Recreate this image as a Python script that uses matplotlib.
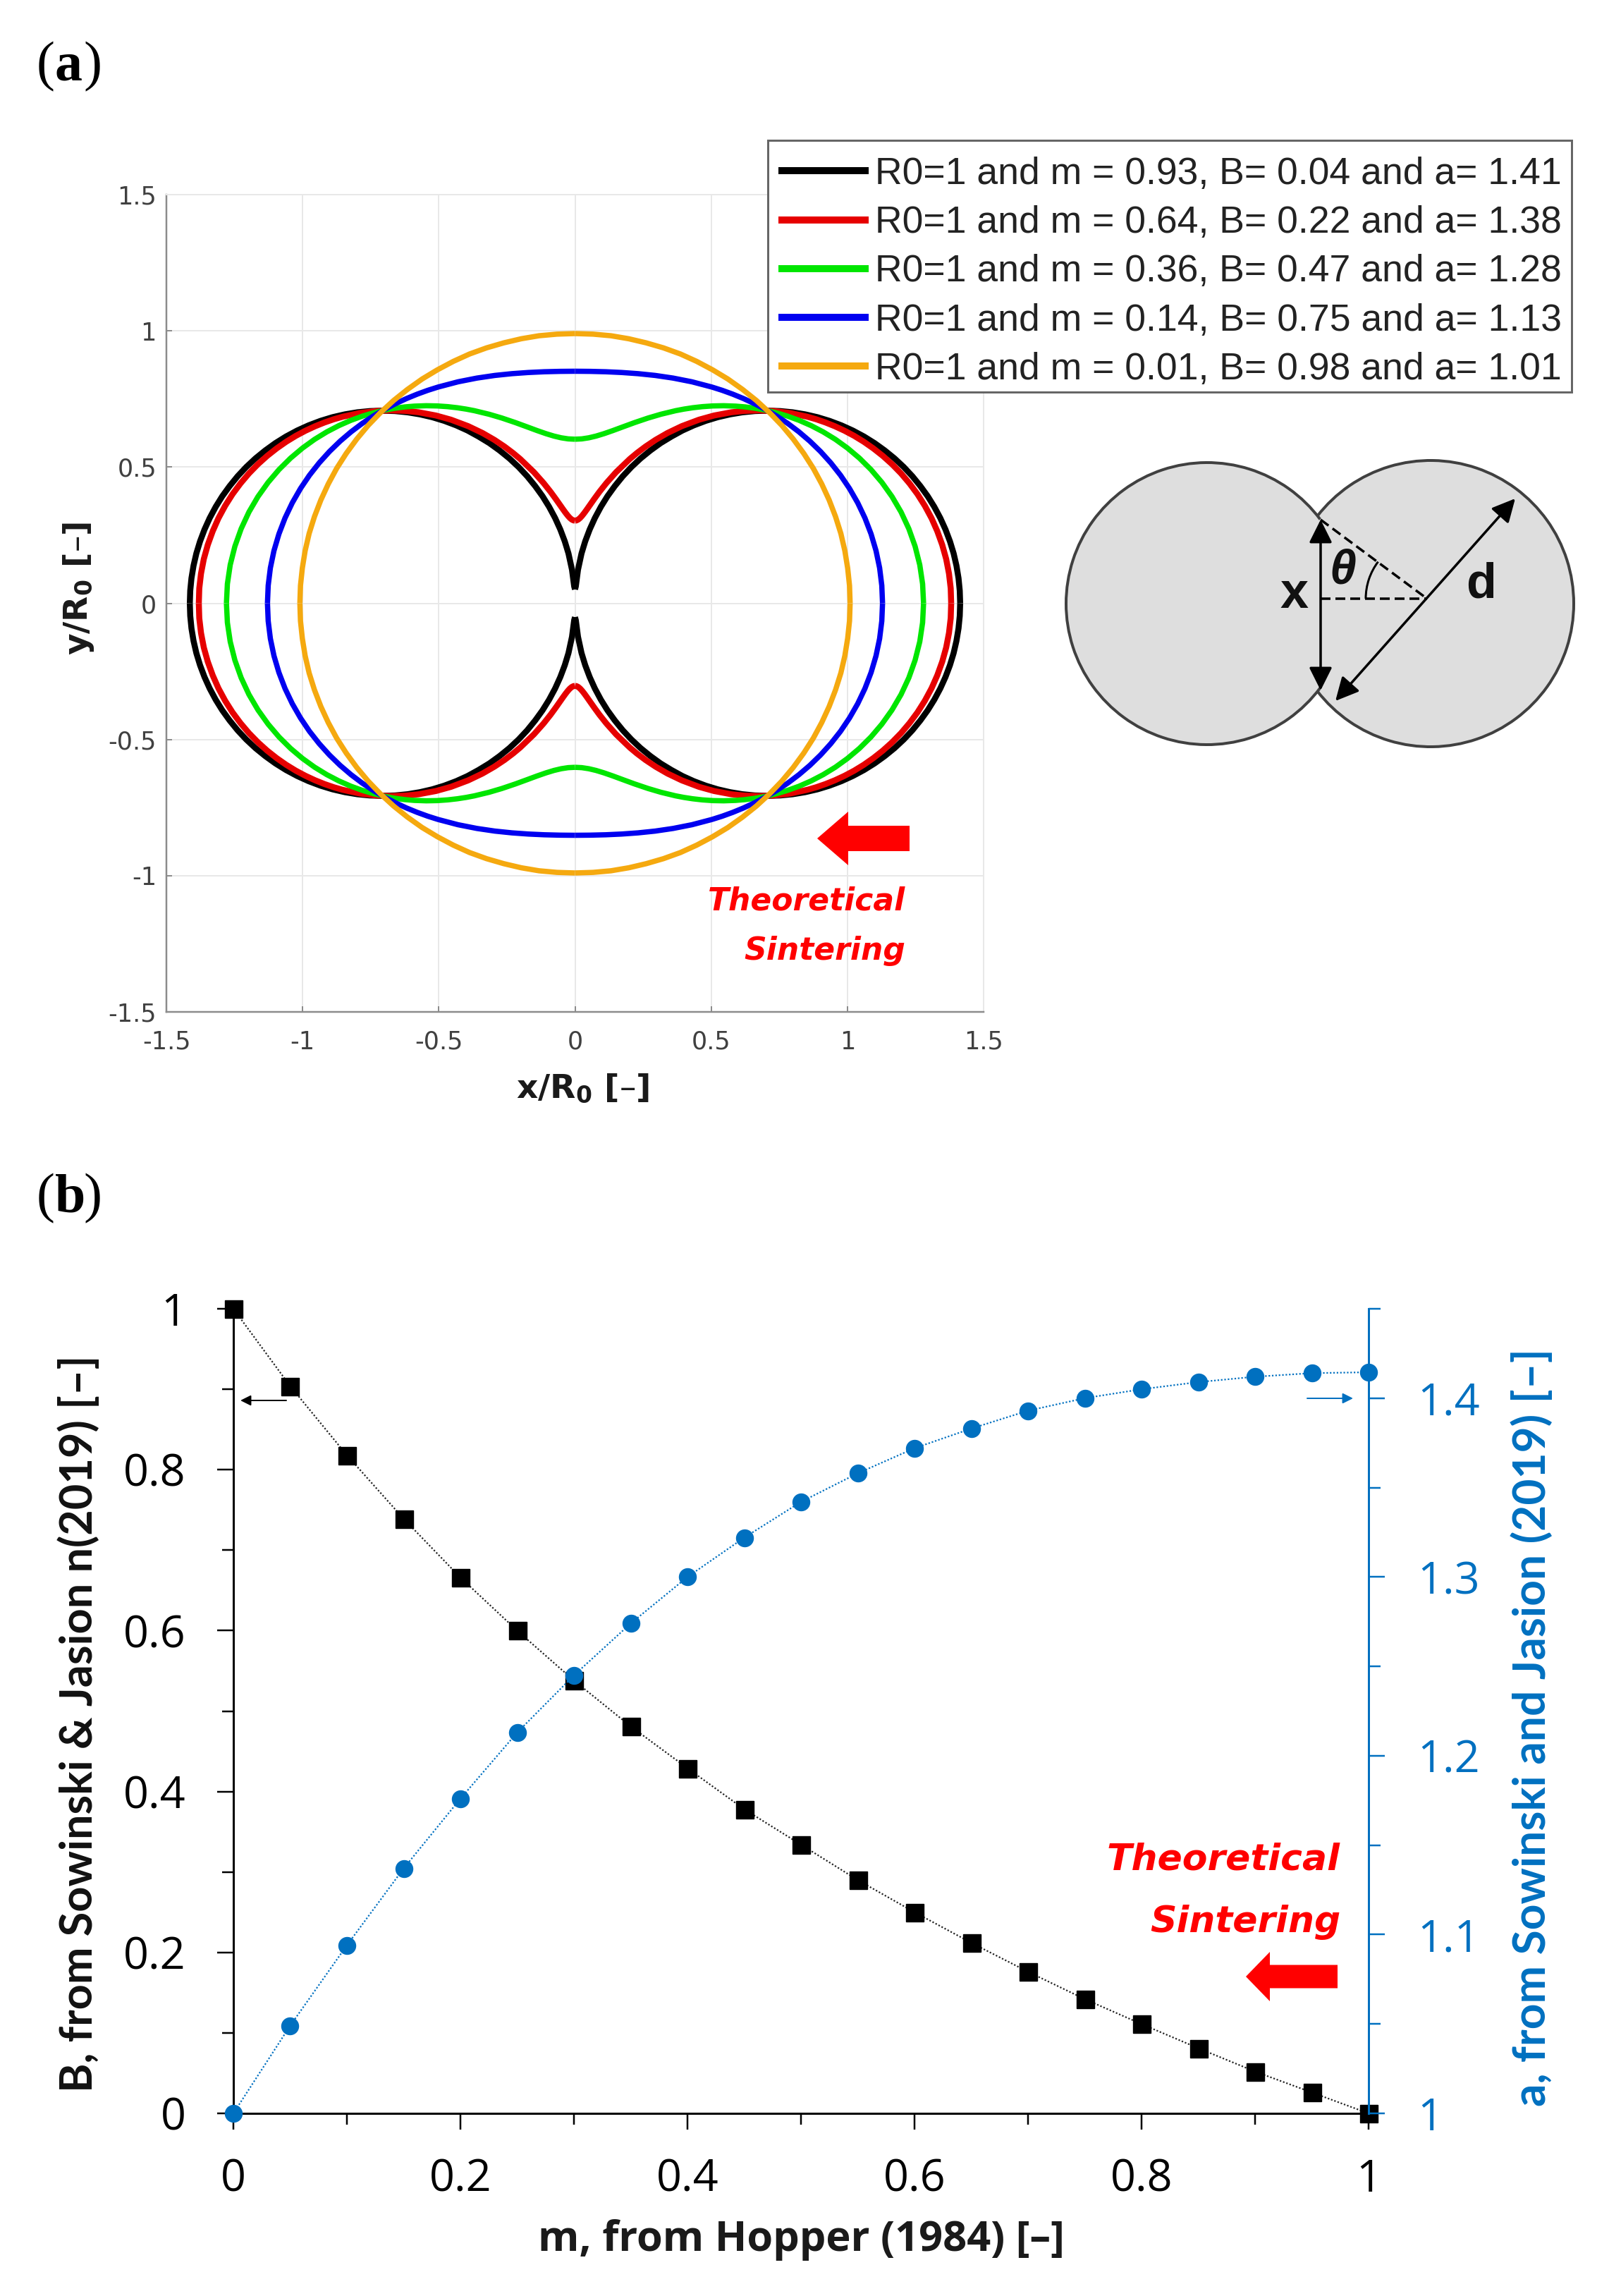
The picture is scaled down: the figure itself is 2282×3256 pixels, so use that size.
import numpy as np
import matplotlib
matplotlib.use("Agg")
import matplotlib.pyplot as plt
from matplotlib.patches import Circle, Arc, Polygon, Rectangle

W, H = 2282, 3256
DPI = 100
plt.rcParams['font.family'] = ['DejaVu Sans']
plt.rcParams['mathtext.fontset'] = 'dejavusans'

# ---------- panel (a): first-quadrant outline of each neck shape ----------
labels_a = ["R0=1 and m = 0.93, B= 0.04 and a= 1.41",
            "R0=1 and m = 0.64, B= 0.22 and a= 1.38",
            "R0=1 and m = 0.36, B= 0.47 and a= 1.28",
            "R0=1 and m = 0.14, B= 0.75 and a= 1.13",
            "R0=1 and m = 0.01, B= 0.98 and a= 1.01"]
colors_a = ["#000000", "#e60000", "#00e600", "#0000f0", "#f5a90f"]
widths_a = [8.5, 8.5, 7.5, 7.5, 7.5]

black_x = [1.414,1.4125,1.408,1.4004,1.390,1.3765,1.360,1.3411,1.319,1.2949,1.268,1.2386,1.207,1.1732,1.137,1.0998,1.061,1.0197,.978,.9343,.890,.8449,.799,.7532,.707,.6608,.615,.5691,.524,.4797,.436,.3943,.354,.3142,.277,.2408,.207,.1754,.146,.1191,.095,.0729,.054,.0375,.024,.011,.003,0]
black_y = [0,.0462,.092,.1379,.183,.2273,.271,.3127,.354,.3928,.430,.4662,.500,.5316,.561,.5878,.612,.6341,.653,.6695,.683,.6934,.701,.7055,.707,.7055,.701,.6934,.683,.6695,.653,.6341,.612,.5878,.561,.5316,.500,.4662,.430,.3928,.354,.3127,.271,.2273,.183,.123,.062,.051]
red_x = [1.381,1.3793,1.3729,1.3626,1.3481,1.3300,1.309,1.2843,1.2573,1.2278,1.1967,1.1639,1.1300,1.0953,1.0601,1.0248,.9894,.9543,.9198,.8858,.8526,.7888,.7289,.6731,.6217,.5744,.5107,.4552,.3921,.3396,.2957,.2589,.2278,.2015,.1509,.1155,.0898,.0705,.0556,.0437,.0339,.0256,.0184,.0119,.0058,0]
red_y = [0,.0548,.1092,.1626,.2145,.2645,.312,.3578,.4005,.4402,.4769,.5105,.5410,.5684,.5930,.6146,.6334,.6497,.6636,.6753,.6848,.6985,.7057,.7079,.7061,.7011,.6892,.6738,.6501,.6250,.5997,.5752,.5518,.5299,.4813,.4415,.4092,.3828,.3616,.3446,.3311,.3206,.3128,.3074,.3043,.3032]
green_x = [1.2796,1.2761,1.2657,1.2486,1.2255,1.1970,1.1637,1.1266,1.0865,1.0442,1.0004,.9559,.9111,.8667,.8230,.7804,.7391,.6993,.6611,.6246,.5898,.5461,.5053,.4675,.4323,.3997,.3694,.3153,.2685,.2185,.1759,.1391,.1066,.0774,.0504,.0248,0]
green_y = [0,.0710,.1410,.2088,.2737,.3349,.3917,.4437,.4908,.5327,.5696,.6017,.6291,.6522,.6714,.6869,.6993,.7088,.7158,.7207,.7236,.7251,.7243,.7217,.7177,.7127,.7069,.6938,.6800,.6631,.6475,.6339,.6226,.6137,.6073,.6034,.6022]
blue_x = [1.1290,1.1263,1.1183,1.1051,1.0870,1.0645,1.0379,1.0077,.9746,.9389,.9013,.8622,.8221,.7814,.7404,.6994,.6587,.6186,.5791,.5403,.5024,.4294,.3600,.2942,.2314,.1712,.1130,.0562,0]
blue_y = [0,.0652,.1297,.1929,.2541,.3128,.3686,.4212,.4702,.5155,.5571,.5950,.6292,.6599,.6872,.7114,.7327,.7514,.7676,.7817,.7937,.8129,.8266,.8363,.8428,.8471,.8498,.8512,.8517]
orange_x = [1.01,1.0078,1.001,.9906,.976,.9564,.933,.9058,.875,.8398,.801,.7594,.714,.6659,.615,.5611,.505,.4467,.387,.3247,.261,.1970,.132,.0661,0]
orange_y = [0,.0647,.129,.1931,.256,.3182,.379,.4379,.495,.5500,.603,.6528,.700,.7443,.785,.8232,.857,.8879,.915,.9375,.956,.9710,.982,.9879,.99]
curves_a = [(black_x, black_y), (red_x, red_y), (green_x, green_y), (blue_x, blue_y), (orange_x, orange_y)]
ticks_a = [-1.5, -1, -.5, 0, .5, 1, 1.5]
ticklabels_a = ["-1.5", "-1", "-0.5", "0", "0.5", "1", "1.5"]

# ---------- panel (b) ----------
m_vals = [0,.05,.1,.15,.2,.25,.3,.35,.4,.45,.5,.55,.6,.65,.7,.75,.8,.85,.9,.95,1]
B_vals = [1,.904,.818,.739,.666,.600,.538,.481,.429,.378,.334,.290,.250,.212,.176,.142,.111,.081,.052,.026,0]
a_vals = [1,1.049,1.094,1.137,1.176,1.213,1.245,1.274,1.300,1.322,1.342,1.358,1.372,1.383,1.393,1.400,1.405,1.409,1.412,1.414,1.4145]
BLUE = "#0070c0"


def ax_px(x0, y0, x1, y1):
    return [x0 / W, 1 - y1 / H, (x1 - x0) / W, (y1 - y0) / H]


fig = plt.figure(figsize=(W / DPI, H / DPI), dpi=DPI, facecolor="white")
px = 0.72  # points per pixel

# ===== panel (a) =====
ax = fig.add_axes(ax_px(236, 276, 1395, 1435))
GREY = "#404040"
for (cx, cy), col, lab, lw in zip(curves_a, colors_a, labels_a, widths_a):
    cx = np.array(cx); cy = np.array(cy)
    for sx, sy in ((1, 1), (-1, 1), (1, -1), (-1, -1)):
        ax.plot(sx * cx, sy * cy, color=col, lw=lw * px, solid_capstyle="butt",
                solid_joinstyle="round", label=lab if (sx, sy) == (1, 1) else None, zorder=3)
ax.set_xlim(-1.5, 1.5)
ax.set_ylim(-1.5, 1.5)
ax.set_xticks(ticks_a, ticklabels_a)
ax.set_yticks(ticks_a, ticklabels_a)
ax.grid(True, color="#e8e8e8", lw=2 * px)
ax.set_axisbelow(True)
for s in ("top", "right"):
    ax.spines[s].set_color("#e8e8e8")
    ax.spines[s].set_linewidth(2 * px)
for s in ("left", "bottom"):
    ax.spines[s].set_color("#8c8c8c")
    ax.spines[s].set_linewidth(2.5 * px)
ax.tick_params(direction="in", length=8 * px, width=2 * px, color="#8c8c8c",
               labelcolor=GREY, labelsize=35 * px, pad=14 * px)
ax.tick_params(axis="x", pad=26 * px)
ax.add_patch(Rectangle((1089 / W, 1 - 556 / H), 1140 / W, 357 / H, transform=fig.transFigure,
                       fc="white", ec="#666666", lw=3 * px, clip_on=False, zorder=4))
leg = ax.legend(loc="upper left", bbox_to_anchor=(1089 / W, 1 - 207 / H),
                bbox_transform=fig.transFigure, borderaxespad=0, frameon=False,
                labelcolor="#222222",
                prop={"family": "Liberation Sans", "size": 53.5 * px},
                handlelength=2.39, handletextpad=0.17, borderpad=0.28, labelspacing=0.36)
leg.set_zorder(5)
for line in leg.get_lines():
    line.set_linewidth(10 * px)

# ===== panel (b) =====
TICKFONT = "Open Sans"
TS = 63 * px
axb = fig.add_axes(ax_px(331, 1856, 1941, 2997))
axb.plot(m_vals, B_vals, color="#222222", lw=2.2 * px, ls=(0, (1, 1.2)), marker="s",
         ms=25 * px, mfc="black", mec="black", clip_on=False, zorder=5)
axb.set_xlim(0, 1)
axb.set_ylim(0, 1)
axb.set_xticks([0, .2, .4, .6, .8, 1], ["0", "0.2", "0.4", "0.6", "0.8", "1"])
axb.set_xticks([.1, .3, .5, .7, .9], minor=True)
axb.set_yticks([0, .2, .4, .6, .8, 1], ["0", "0.2", "0.4", "0.6", "0.8", "1"])
axb.set_yticks([.1, .3, .5, .7, .9], minor=True)
axb.spines["top"].set_visible(False)
axb.spines["right"].set_visible(False)
for s in ("left", "bottom"):
    axb.spines[s].set_linewidth(3 * px)
axb.tick_params(axis="both", which="major", length=23 * px, width=2.5 * px, pad=40 * px)
axb.tick_params(axis="both", which="minor", length=16 * px, width=2.5 * px)
axb.tick_params(axis="y", pad=44 * px)
for lab in axb.get_xticklabels() + axb.get_yticklabels():
    lab.set_fontfamily(TICKFONT)
    lab.set_fontsize(TS)

axr = axb.twinx()
axr.plot(m_vals, a_vals, color=BLUE, lw=2.2 * px, ls=(0, (1, 1.2)), marker="o",
         ms=24 * px, mfc=BLUE, mec=BLUE, clip_on=False, zorder=6)
axr.set_ylim(1, 1.45)
axr.set_yticks([1, 1.1, 1.2, 1.3, 1.4], ["1", "1.1", "1.2", "1.3", "1.4"])
axr.set_yticks([1.05, 1.15, 1.25, 1.35, 1.45], minor=True)
for s in ("top", "left", "bottom"):
    axr.spines[s].set_visible(False)
axr.spines["right"].set_color(BLUE)
axr.spines["right"].set_linewidth(3 * px)
axr.tick_params(axis="y", which="major", length=23 * px, width=2.5 * px, color=BLUE,
                labelcolor=BLUE, pad=46 * px)
axr.tick_params(axis="y", which="minor", length=17 * px, width=2.5 * px, color=BLUE)
for lab in axr.get_yticklabels():
    lab.set_fontfamily(TICKFONT)
    lab.set_fontsize(TS)

# ===== overlay in pixel coordinates for annotations =====
ov = fig.add_axes([0, 0, 1, 1], facecolor="none")
ov.set_xlim(0, W)
ov.set_ylim(H, 0)
ov.axis("off")


def text(x, y, s, **kw):
    kw.setdefault("ha", "center")
    kw.setdefault("va", "center")
    ov.text(x, y, s, **kw)


# panel letters
SERIF = "Liberation Serif"
for yy, letter in ((95, "a"), (1700, "b")):
    text(52, yy, "(", family=SERIF, size=78 * px, ha="left")
    text(78, yy, letter, family=SERIF, size=78 * px, weight="bold", ha="left")
    text(118, yy, ")", family=SERIF, size=78 * px, ha="left")

# axis labels
BOLD = dict(weight="bold", color="#1a1a1a")
text(826, 1544, r"x/R$_{\mathbf{0}}$ [–]", size=47 * px, **BOLD)
text(112, 834, r"y/R$_{\mathbf{0}}$ [–]", size=47 * px, rotation=90, **BOLD)
text(1136, 3176, "m, from Hopper (1984) [–]", size=59.5 * px, family="Open Sans", **BOLD)
CAL = dict(family="Lato", weight="bold")
text(112, 2444, "B, from Sowinski & Jasion n(2019) [–]", size=63 * px, rotation=90, color="#111111", **CAL)
text(2172, 2450, "a, from Sowinski and Jasion (2019) [–]", size=64 * px, rotation=90, color=BLUE, **CAL)

# Theoretical Sintering notes
RED = "#ff0000"
NOTE = dict(family="DejaVu Sans", weight="bold", style="oblique", color=RED, ha="right")
text(1284, 1278, "Theoretical", size=44 * px, **NOTE)
text(1284, 1349, "Sintering", size=44 * px, **NOTE)
text(1901, 2638, "Theoretical", size=52 * px, **NOTE)
text(1901, 2726, "Sintering", size=52 * px, **NOTE)


def block_arrow(tip, tail, yc, thick, head_h, head_l):
    ov.add_patch(Polygon([(tip, yc), (tip + head_l, yc - head_h / 2), (tip + head_l, yc - thick / 2),
                          (tail, yc - thick / 2), (tail, yc + thick / 2), (tip + head_l, yc + thick / 2),
                          (tip + head_l, yc + head_h / 2)], closed=True, fc=RED, ec="none"))


block_arrow(1159, 1290, 1189, 36, 76, 44)
block_arrow(1767, 1897, 2803, 33, 70, 34)

# small direction arrows
ov.annotate("", xy=(341, 1986), xytext=(406, 1986),
            arrowprops=dict(arrowstyle="-|>", color="black", lw=2 * px, mutation_scale=22, shrinkA=0, shrinkB=0))
ov.annotate("", xy=(1919, 1983), xytext=(1854, 1983),
            arrowprops=dict(arrowstyle="-|>", color=BLUE, lw=2 * px, mutation_scale=22, shrinkA=0, shrinkB=0))

# sintering schematic
FILL = "#dedede"
EDGE = "#404040"
cl, cr, cy0, rl, rr = 1712, 2029, 856, 200, 203
ov.add_patch(Circle((cl, cy0), rl, fc=FILL, ec="none"))
ov.add_patch(Circle((cr, cy0), rr, fc=FILL, ec="none"))
ov.add_patch(Arc((cl, cy0), 2 * rl, 2 * rl, theta1=36.7, theta2=323.3, ec=EDGE, lw=4 * px))
ov.add_patch(Arc((cr, cy0), 2 * rr, 2 * rr, theta1=-142.4, theta2=142.4, ec=EDGE, lw=4 * px))
AS = dict(arrowstyle="<|-|>", color="black", lw=3.5 * px, mutation_scale=50, shrinkA=0, shrinkB=0)
ov.annotate("", xy=(1873, 737), xytext=(1873, 979), arrowprops=AS)
ov.annotate("", xy=(2149, 707), xytext=(1894, 994), arrowprops=AS)
ov.plot([1873, 2024], [737, 849], color="black", lw=3.5 * px, ls=(0, (4, 2)))
ov.plot([1873, 2024], [849, 849], color="black", lw=3.5 * px, ls=(0, (4, 2)))
ov.add_patch(Arc((2024, 849), 174, 174, theta1=180, theta2=217, ec="black", lw=3 * px))
SB = dict(family="Liberation Sans", weight="bold", color="#111111")
text(1836, 843, "x", size=72 * px, **SB)
text(1904, 809, "θ", size=68 * px, style="italic", **SB)
text(2100, 829, "d", size=70 * px, **SB)

fig.savefig("out.png", dpi=DPI, facecolor="white")
